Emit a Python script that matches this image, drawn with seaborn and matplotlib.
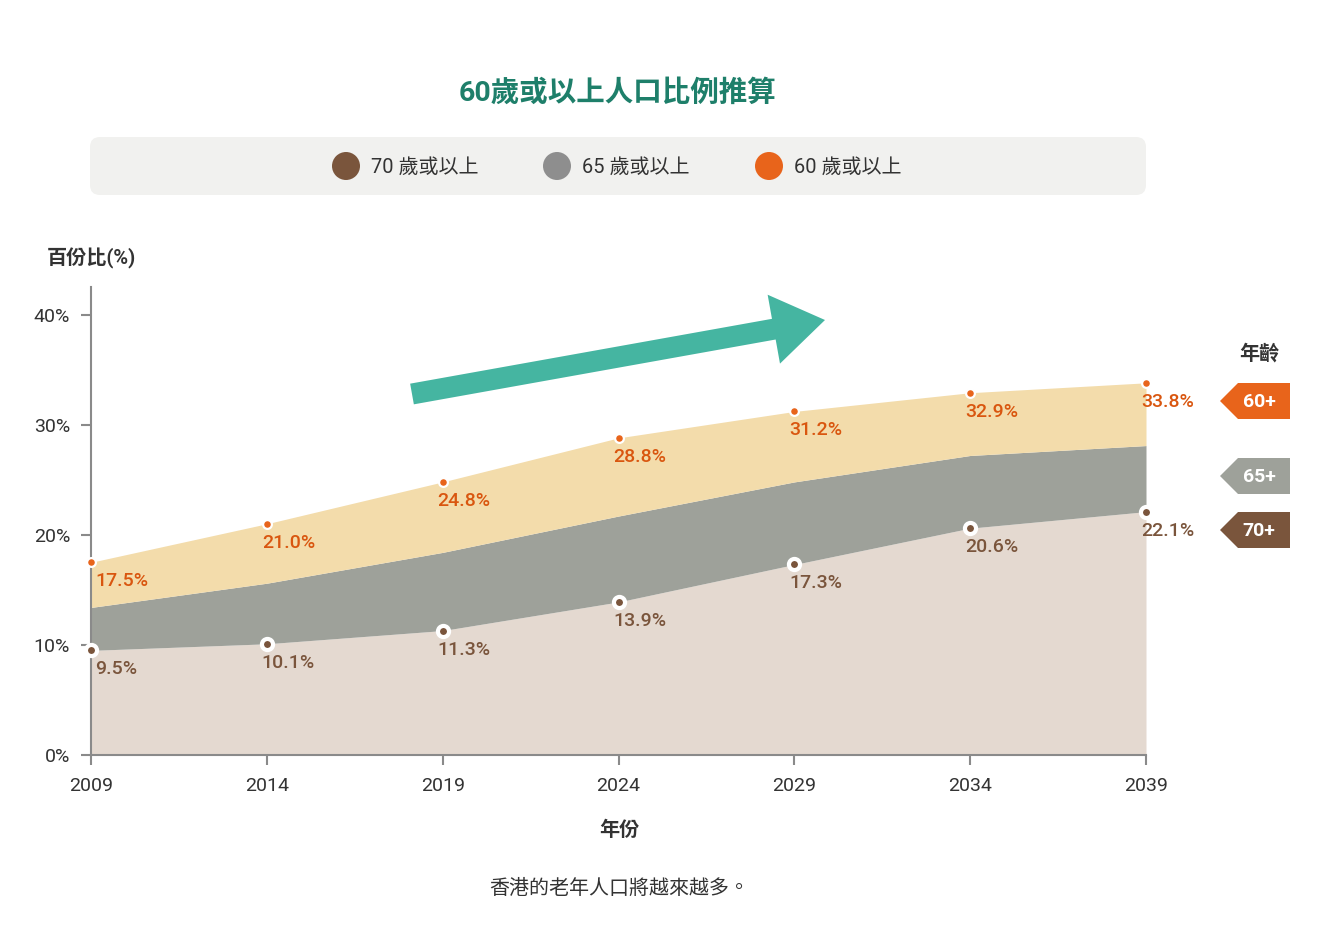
import numpy as np
import pandas as pd
import seaborn as sns
import matplotlib.pyplot as plt
from matplotlib.patches import FancyBboxPatch, Circle, Polygon

# data
years = [2009, 2014, 2019, 2024, 2029, 2034, 2039]
pct_60 = [17.5, 21.0, 24.8, 28.8, 31.2, 32.9, 33.8]
pct_65 = [13.4, 15.6, 18.4, 21.7, 24.8, 27.2, 28.1]   # no labels in chart, estimated
pct_70 = [9.5, 10.1, 11.3, 13.9, 17.3, 20.6, 22.1]
legend_labels = ['70 歲或以上', '65 歲或以上', '60 歲或以上']
tag_labels = ['60+', '65+', '70+']

df = pd.DataFrame({'year': years, 'p60': pct_60, 'p65': pct_65, 'p70': pct_70})

sns.set_theme(style='white')
FONT = ['Roboto', 'Noto Sans CJK TC', 'DejaVu Sans']
plt.rcParams['font.family'] = FONT

C_ORANGE = '#e8641b'
C_ORANGE_TXT = '#d9560f'
C_BROWN = '#7a553c'
C_GREY = '#8e8e8e'
C_TEXT = '#333333'
C_AXIS = '#8a8a8a'

fig = plt.figure(figsize=(13.2, 9.5), dpi=100)
ax = fig.add_axes([91 / 1320, 1 - 755 / 950, (1146 - 91) / 1320, (755 - 287) / 950])

# stacked-looking areas
ax.fill_between(df.year, 0, df.p70, color='#e4d9d0', lw=0, zorder=1)
ax.fill_between(df.year, df.p70, df.p65, color='#9ea19a', lw=0, zorder=1)
ax.fill_between(df.year, df.p65, df.p60, color='#f3dcab', lw=0, zorder=1)

sns.scatterplot(data=df, x='year', y='p60', ax=ax, s=40, color=C_ORANGE,
                edgecolor='white', linewidth=1.6, zorder=5, clip_on=False)
sns.scatterplot(data=df, x='year', y='p70', ax=ax, s=64, color=C_BROWN,
                edgecolor='white', linewidth=3.0, zorder=5, clip_on=False)

for i, (yr, a, b) in enumerate(zip(years, pct_60, pct_70)):
    dx = 4 if i == 0 else -5
    ax.annotate(f'{a:.1f}%', (yr, a), xytext=(dx, -19), textcoords='offset pixels',
                ha='left', va='center', fontsize=14, color=C_ORANGE_TXT,
                fontweight='medium', zorder=6)
    ax.annotate(f'{b:.1f}%', (yr, b), xytext=(dx, -19), textcoords='offset pixels',
                ha='left', va='center', fontsize=14, color=C_BROWN,
                fontweight='medium', zorder=6)

ax.set_xlim(2009, 2039)
ax.set_ylim(0, 42.5)
ax.set_xticks(years)
ax.set_yticks([0, 10, 20, 30, 40])
ax.set_yticklabels([f'{v}%' for v in [0, 10, 20, 30, 40]])
ax.set_xlabel('')
ax.set_ylabel('')
ax.set_facecolor('none')
for s in ['top', 'right']:
    ax.spines[s].set_visible(False)
for s in ['left', 'bottom']:
    ax.spines[s].set_color(C_AXIS)
    ax.spines[s].set_linewidth(1.5)
    ax.spines[s].set_zorder(4)
ax.tick_params(axis='both', which='major', length=7, width=1.5, color=C_AXIS,
               labelsize=14, labelcolor=C_TEXT, left=True, bottom=True, direction='out')
ax.tick_params(axis='y', pad=8)
ax.tick_params(axis='x', pad=9)

# overlay in pixel coordinates for decorations
ov = fig.add_axes([0, 0, 1, 1], zorder=10)
ov.set_xlim(0, 1320)
ov.set_ylim(950, 0)
ov.axis('off')
ov.patch.set_alpha(0)

ov.text(618, 93, '60歲或以上人口比例推算', ha='center', va='center', fontsize=20.5,
        fontweight='bold', color='#1e7f6a')

ov.add_patch(FancyBboxPatch((90, 137), 1056, 58, boxstyle='round,pad=0,rounding_size=10',
                            fc='#f1f1ef', ec='none'))
for cx, col, lab in zip([346, 557, 769], [C_BROWN, C_GREY, C_ORANGE], legend_labels):
    ov.add_patch(Circle((cx, 166), 14, fc=col, ec='none'))
    ov.text(cx + 25, 167, lab, ha='left', va='center', fontsize=14.4, color=C_TEXT)

ov.text(47, 258, '百份比(%)', ha='left', va='center', fontsize=14.5, fontweight='bold', color=C_TEXT)
ov.text(619, 830, '年份', ha='center', va='center', fontsize=14.5, fontweight='bold', color=C_TEXT)
ov.text(619, 888, '香港的老年人口將越來越多。', ha='center', va='center', fontsize=14.4, color=C_TEXT)

# trend arrow
p0 = np.array([412.0, 394.0])
p1 = np.array([825.0, 320.0])
u = (p1 - p0) / np.linalg.norm(p1 - p0)
n = np.array([-u[1], u[0]])
hw, hl, hh = 10.5, 52, 35
base = p1 - u * hl
arrow = [p0 + n * hw, base + n * hw, base + n * hh, p1, base - n * hh, base - n * hw, p0 - n * hw]
ov.add_patch(Polygon(arrow, closed=True, fc='#45b5a1', ec='none'))

# age tags on the right
ov.text(1259, 354, '年齡', ha='center', va='center', fontsize=14.5, fontweight='bold', color=C_TEXT)
for cy, col, lab in zip([401, 476, 530], [C_ORANGE, '#9ea19a', C_BROWN], tag_labels):
    h = 18
    pts = [(1220, cy), (1238, cy - h), (1290, cy - h), (1290, cy + h), (1238, cy + h)]
    ov.add_patch(Polygon(pts, closed=True, fc=col, ec='none'))
    ov.text(1259, cy + 1, lab, ha='center', va='center', fontsize=14, fontweight='bold', color='white')

fig.savefig('out.png', dpi=100)
